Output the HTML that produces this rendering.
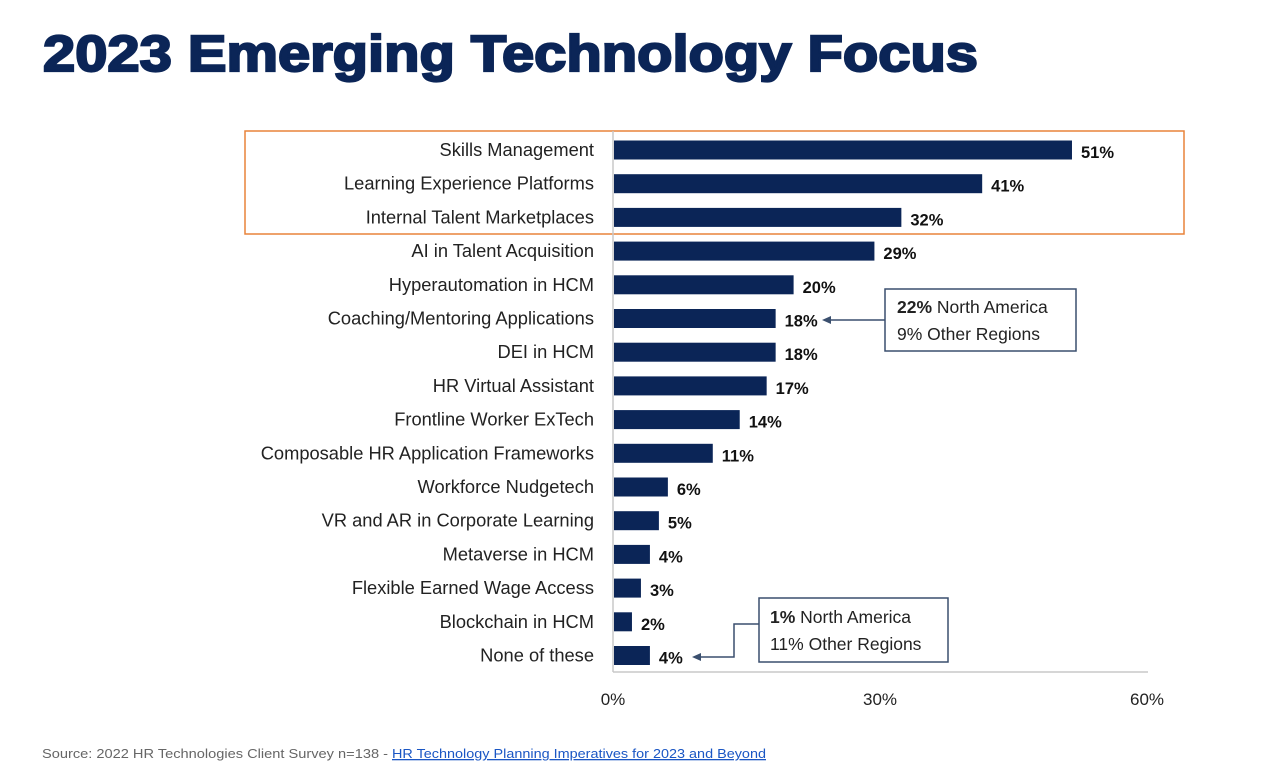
<!DOCTYPE html>
<html><head><meta charset="utf-8"><style>
html,body{margin:0;padding:0;background:#fff;width:1265px;height:768px;overflow:hidden}
svg{display:block}
text{font-family:"Liberation Sans",sans-serif}
</style></head><body>
<svg width="1265" height="768" viewBox="0 0 1265 768">
<text x="43" y="71" font-size="51" font-weight="bold" fill="#0b2557" stroke="#0b2557" stroke-width="2.2" textLength="935" lengthAdjust="spacingAndGlyphs">2023 Emerging Technology Focus</text>
<rect x="245" y="131" width="939" height="103" fill="none" stroke="#e8833a" stroke-width="1.5"/>
<line x1="613" y1="131" x2="613" y2="672" stroke="#c8c8c8" stroke-width="1.5"/>
<line x1="613" y1="672" x2="1148" y2="672" stroke="#c8c8c8" stroke-width="1.5"/>
<g id="bars" fill="#0b2557"></g>
<g font-size="18.3" fill="#222" text-anchor="end" id="labels"></g>
<g font-size="16.5" font-weight="bold" fill="#111" id="vals"></g>
<rect x="885" y="289" width="191" height="62" fill="#fff" stroke="#3a4f6e" stroke-width="1.5"/>
<text x="897" y="313" font-size="17.5" fill="#222"><tspan font-weight="bold">22%</tspan> North America</text>
<text x="897" y="340" font-size="17.5" fill="#222">9% Other Regions</text>
<line x1="885" y1="320" x2="830" y2="320" stroke="#3a4f6e" stroke-width="1.5"/>
<polygon points="822,320 831,316 831,324" fill="#3a4f6e"/>
<rect x="759" y="598" width="189" height="64" fill="#fff" stroke="#3a4f6e" stroke-width="1.5"/>
<text x="770" y="623" font-size="17.5" fill="#222"><tspan font-weight="bold">1%</tspan> North America</text>
<text x="770" y="650" font-size="17.5" fill="#222">11% Other Regions</text>
<polyline points="759,624 734,624 734,657 700,657" fill="none" stroke="#3a4f6e" stroke-width="1.5"/>
<polygon points="692,657 701,653 701,661" fill="#3a4f6e"/>
<g font-size="17" fill="#222" text-anchor="middle">
<text x="613" y="705">0%</text><text x="880" y="705">30%</text><text x="1147" y="705">60%</text>
</g>
<text x="42" y="758" font-size="13" fill="#666" textLength="346" lengthAdjust="spacingAndGlyphs">Source:  2022 HR Technologies Client Survey n=138 -</text>
<text x="392" y="758" font-size="13" fill="#1a56c4" text-decoration="underline" textLength="374" lengthAdjust="spacingAndGlyphs">HR Technology Planning Imperatives for 2023 and Beyond</text>
</svg>
<script>
var d=[["Skills Management",51],["Learning Experience Platforms",41],["Internal Talent Marketplaces",32],["AI in Talent Acquisition",29],["Hyperautomation in HCM",20],["Coaching/Mentoring Applications",18],["DEI in HCM",18],["HR Virtual Assistant",17],["Frontline Worker ExTech",14],["Composable HR Application Frameworks",11],["Workforce Nudgetech",6],["VR and AR in Corporate Learning",5],["Metaverse in HCM",4],["Flexible Earned Wage Access",3],["Blockchain in HCM",2],["None of these",4]];
var ns="http://www.w3.org/2000/svg";
function el(t,a,p,txt){var e=document.createElementNS(ns,t);for(var k in a)e.setAttribute(k,a[k]);if(txt)e.textContent=txt;document.getElementById(p).appendChild(e);}
d.forEach(function(r,i){var cy=150+i*33.7;var w=r[1]*8.98;
el("rect",{x:614,y:cy-9.5,width:w,height:19},"bars");
el("text",{x:594,y:cy+6},"labels",r[0]);
el("text",{x:614+w+9,y:cy+8},"vals",r[1]+"%");});
</script>
</body></html>
